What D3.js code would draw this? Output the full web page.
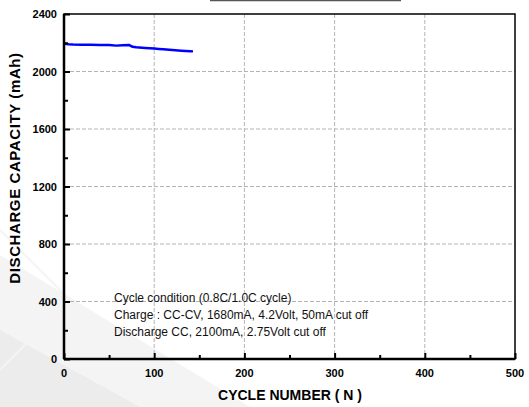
<!DOCTYPE html>
<html><head><meta charset="utf-8">
<script src="https://cdn.jsdelivr.net/npm/d3@7"></script>
<style>body{margin:0;background:#fff}svg{display:block}</style>
</head><body>
<svg id="c" width="529" height="407"></svg>
<script>
const cycles = [0, 5, 10, 20, 30, 40, 50, 58, 65, 72, 76, 80, 90, 100, 105, 110, 120, 130, 140, 143];
const capacity = [2193, 2190, 2188, 2186, 2186, 2185, 2185, 2180, 2183, 2185, 2172, 2168, 2164, 2160, 2157, 2154, 2149, 2145, 2141, 2140];
const xTicks = [0, 100, 200, 300, 400, 500];
const yTicks = [0, 400, 800, 1200, 1600, 2000, 2400];
const xMinor = [50, 150, 250, 350, 450];
const yMinor = [200, 600, 1000, 1400, 1800, 2200];
const notes = ["Cycle condition (0.8C/1.0C cycle)", "Charge : CC-CV, 1680mA, 4.2Volt, 50mA cut off", "Discharge CC, 2100mA, 2.75Volt cut off"];

const svg = d3.select("#c");
const L = 64, R = 515, T = 14, B = 359;
const x = d3.scaleLinear().domain([0, 500]).range([L, R]);
const y = d3.scaleLinear().domain([0, 2400]).range([B, T]);
const font = "'Liberation Sans', Arial, sans-serif";

// faint watermark
const wm = svg.append("g");
wm.append("path").attr("d", "M0,255 L250,407 L0,407 Z").attr("fill", "#f4f4f4");
wm.append("path").attr("d", "M0,330 L140,407 L0,407 Z").attr("fill", "#ececec");
wm.append("path").attr("d", "M0,230 L70,300 L0,370").attr("fill", "none").attr("stroke", "#f4f4f4").attr("stroke-width", 2);

// title remnant line
svg.append("line").attr("x1", 210).attr("x2", 401).attr("y1", 0.5).attr("y2", 0.5)
  .attr("stroke", "#555").attr("stroke-width", 1.5);

// gridlines
const g = svg.append("g");
g.selectAll(".gx").data(xTicks.filter(d => d > 0 && d < 500)).enter().append("line")
  .attr("x1", d => x(d)).attr("x2", d => x(d)).attr("y1", T).attr("y2", B)
  .attr("stroke", "#b4b4b4").attr("stroke-width", 1).attr("stroke-dasharray", "4,2");
g.selectAll(".gy").data(yTicks.filter(d => d > 0 && d < 2400)).enter().append("line")
  .attr("y1", d => y(d)).attr("y2", d => y(d)).attr("x1", L).attr("x2", R)
  .attr("stroke", "#b4b4b4").attr("stroke-width", 1).attr("stroke-dasharray", "4,2");

// data line
svg.append("path").datum(cycles.map((c, i) => [c, capacity[i]]))
  .attr("d", d3.line().x(d => x(d[0])).y(d => y(d[1])))
  .attr("fill", "none").attr("stroke", "#0000ff").attr("stroke-width", 2.5).attr("stroke-linejoin", "round");

// frame
svg.append("rect").attr("x", L).attr("y", T).attr("width", R - L).attr("height", B - T)
  .attr("fill", "none").attr("stroke", "#000").attr("stroke-width", 1.5);
svg.append("line").attr("x1", L).attr("x2", R).attr("y1", B).attr("y2", B).attr("stroke", "#000").attr("stroke-width", 2.5);
svg.append("line").attr("x1", L).attr("x2", L).attr("y1", T).attr("y2", B).attr("stroke", "#000").attr("stroke-width", 2.5);

// axes with inward ticks
const xAxis = svg.append("g").attr("transform", `translate(0,${B})`)
  .call(d3.axisTop(x).tickValues(xTicks).tickSize(6).tickFormat(""));
const xAxisMinor = svg.append("g").attr("transform", `translate(0,${B})`)
  .call(d3.axisTop(x).tickValues(xMinor).tickSize(4).tickFormat(""));
const yAxis = svg.append("g").attr("transform", `translate(${L},0)`)
  .call(d3.axisRight(y).tickValues(yTicks).tickSize(6).tickFormat(""));
const yAxisMinor = svg.append("g").attr("transform", `translate(${L},0)`)
  .call(d3.axisRight(y).tickValues(yMinor).tickSize(4).tickFormat(""));
[xAxis, xAxisMinor, yAxis, yAxisMinor].forEach(a => {
  a.select(".domain").remove();
  a.selectAll(".tick line").attr("stroke", "#000").attr("stroke-width", 2);
});

// tick labels
svg.selectAll(".xl").data(xTicks).enter().append("text")
  .attr("x", d => x(d)).attr("y", 377).attr("text-anchor", "middle")
  .attr("font-family", font).attr("font-weight", "bold").attr("font-size", 11).text(d => d);
svg.selectAll(".yl").data(yTicks).enter().append("text")
  .attr("x", 57).attr("y", d => y(d) + 4).attr("text-anchor", "end")
  .attr("font-family", font).attr("font-weight", "bold").attr("font-size", 11).text(d => d);

// axis titles
svg.append("text").attr("x", 290).attr("y", 400).attr("text-anchor", "middle")
  .attr("font-family", font).attr("font-weight", "bold").attr("font-size", 14).text("CYCLE NUMBER ( N )");
svg.append("text").attr("transform", "translate(20,168) rotate(-90)").attr("text-anchor", "middle")
  .attr("font-family", font).attr("font-weight", "bold").attr("font-size", 15).attr("letter-spacing", 0.6)
  .text("DISCHARGE CAPACITY (mAh)");

// notes
svg.selectAll(".nt").data(notes).enter().append("text")
  .attr("x", 114).attr("y", (d, i) => 302 + i * 17)
  .attr("font-family", font).attr("font-size", 12).attr("fill", "#111").text(d => d);
</script>
</body></html>
